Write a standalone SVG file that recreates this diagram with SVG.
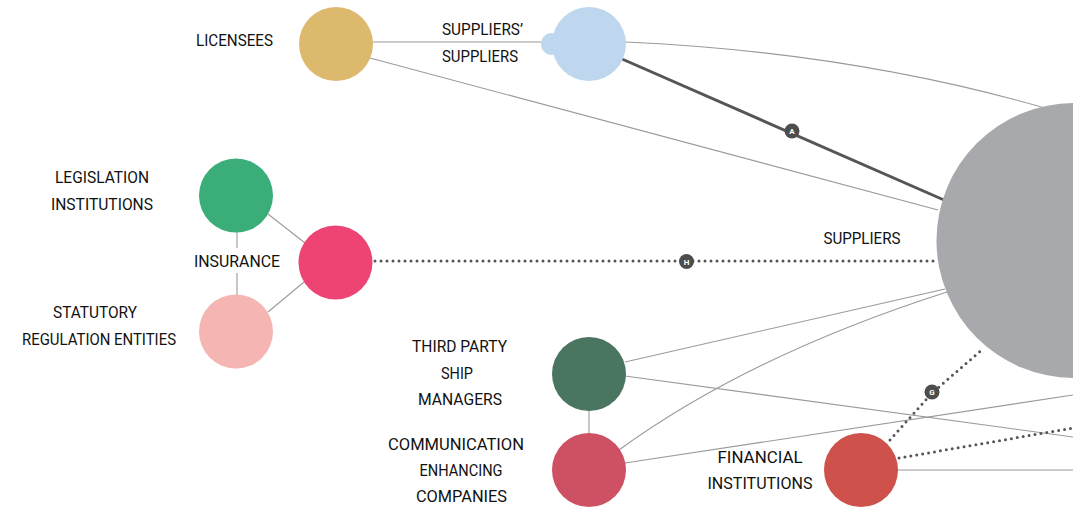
<svg xmlns="http://www.w3.org/2000/svg" width="1073" height="508" viewBox="0 0 1073 508">
<style>
.lbl{font-family:Roboto,"Liberation Sans",sans-serif;font-size:16px;fill:#111;text-anchor:middle}
.thin{fill:none;stroke:#9a9a9a;stroke-width:1.1}
.thick{fill:none;stroke:#555;stroke-width:3}
.dot{fill:none;stroke:#555;stroke-width:3;stroke-linecap:round;stroke-dasharray:0 6}
.tag{fill:#4d4d4d}
.tagt{font-family:Roboto,"Liberation Sans",sans-serif;font-size:8px;font-weight:bold;fill:#fff;text-anchor:middle}
</style>
<rect width="1073" height="508" fill="#fff"/>
<g id="connectors">
<line class="thin" x1="372" y1="42" x2="542" y2="42"/>
<line class="thin" x1="370" y1="58" x2="938" y2="210"/>
<path class="thin" d="M625,42 Q850,52 1045,108"/>
<line class="thick" x1="622" y1="59" x2="944" y2="200"/>
<line class="thin" x1="268" y1="214" x2="305" y2="243"/>
<line class="thin" x1="268" y1="312" x2="304" y2="282"/>
<line class="thin" x1="237" y1="232" x2="237" y2="248"/>
<line class="thin" x1="237" y1="273" x2="237" y2="295"/>
<line class="dot" x1="375" y1="261" x2="934" y2="261"/>
<line class="thin" x1="625" y1="362" x2="945" y2="289"/>
<path class="thin" d="M619,450 Q750,355 947,292"/>
<line class="thin" x1="625" y1="376" x2="1073" y2="437"/>
<line class="thin" x1="625" y1="463" x2="1073" y2="395"/>
<line class="thin" x1="589" y1="411" x2="589" y2="433"/>
<line class="thin" x1="898" y1="470" x2="1073" y2="470"/>
<line class="dot" x1="899" y1="458" x2="1073" y2="428"/>
<polyline class="dot" points="890,440 932,393 984,348"/>
<circle class="tag" cx="792" cy="131" r="7.5"/>
<text class="tagt" x="792" y="134">A</text>
<circle class="tag" cx="686.5" cy="261.5" r="7.5"/>
<text class="tagt" x="686.5" y="264.5">H</text>
<circle class="tag" cx="932" cy="392" r="7.5"/>
<text class="tagt" x="932" y="395">G</text>
</g>
<g id="big"><circle cx="1074" cy="240.5" r="137.5" fill="#a8a9ad"/></g>
<g id="licensees"><circle cx="336" cy="44" r="37" fill="#ddb96e"/><text class="lbl" x="234.5" y="46" textLength="77" lengthAdjust="spacingAndGlyphs">LICENSEES</text></g>
<g id="suppliers-suppliers"><circle cx="552" cy="44" r="11" fill="#bfd7ee"/><circle cx="589" cy="44" r="37" fill="#bfd7ee"/><text class="lbl" x="482.5" y="35" textLength="81" lengthAdjust="spacingAndGlyphs">SUPPLIERS’</text><text class="lbl" x="480" y="62" textLength="76" lengthAdjust="spacingAndGlyphs">SUPPLIERS</text></g>
<g id="legislation"><circle cx="236" cy="195.5" r="37" fill="#3aad78"/><text class="lbl" x="102" y="183" textLength="94" lengthAdjust="spacingAndGlyphs">LEGISLATION</text><text class="lbl" x="102" y="210" textLength="102" lengthAdjust="spacingAndGlyphs">INSTITUTIONS</text></g>
<g id="insurance"><circle cx="335.5" cy="262.5" r="37" fill="#ee4474"/><text class="lbl" x="237" y="267" textLength="86" lengthAdjust="spacingAndGlyphs">INSURANCE</text></g>
<g id="statutory"><circle cx="236" cy="331.5" r="37" fill="#f5b5b2"/><text class="lbl" x="95" y="318" textLength="84" lengthAdjust="spacingAndGlyphs">STATUTORY</text><text class="lbl" x="99" y="345" textLength="154" lengthAdjust="spacingAndGlyphs">REGULATION ENTITIES</text></g>
<g id="suppliers"><text class="lbl" x="862" y="244" textLength="77" lengthAdjust="spacingAndGlyphs">SUPPLIERS</text></g>
<g id="third-party"><circle cx="589" cy="374" r="37" fill="#4a7560"/><text class="lbl" x="459.5" y="352" textLength="95" lengthAdjust="spacingAndGlyphs">THIRD PARTY</text><text class="lbl" x="457" y="379" textLength="32" lengthAdjust="spacingAndGlyphs">SHIP</text><text class="lbl" x="460" y="405" textLength="84" lengthAdjust="spacingAndGlyphs">MANAGERS</text></g>
<g id="communication"><circle cx="589" cy="470" r="37" fill="#ce5063"/><text class="lbl" x="456" y="450" textLength="136" lengthAdjust="spacingAndGlyphs">COMMUNICATION</text><text class="lbl" x="461" y="476" textLength="83" lengthAdjust="spacingAndGlyphs">ENHANCING</text><text class="lbl" x="461.5" y="502" textLength="91" lengthAdjust="spacingAndGlyphs">COMPANIES</text></g>
<g id="financial"><circle cx="861" cy="470" r="37" fill="#ce514b"/><text class="lbl" x="760" y="463" textLength="85" lengthAdjust="spacingAndGlyphs">FINANCIAL</text><text class="lbl" x="760" y="489" textLength="105" lengthAdjust="spacingAndGlyphs">INSTITUTIONS</text></g>
</svg>
